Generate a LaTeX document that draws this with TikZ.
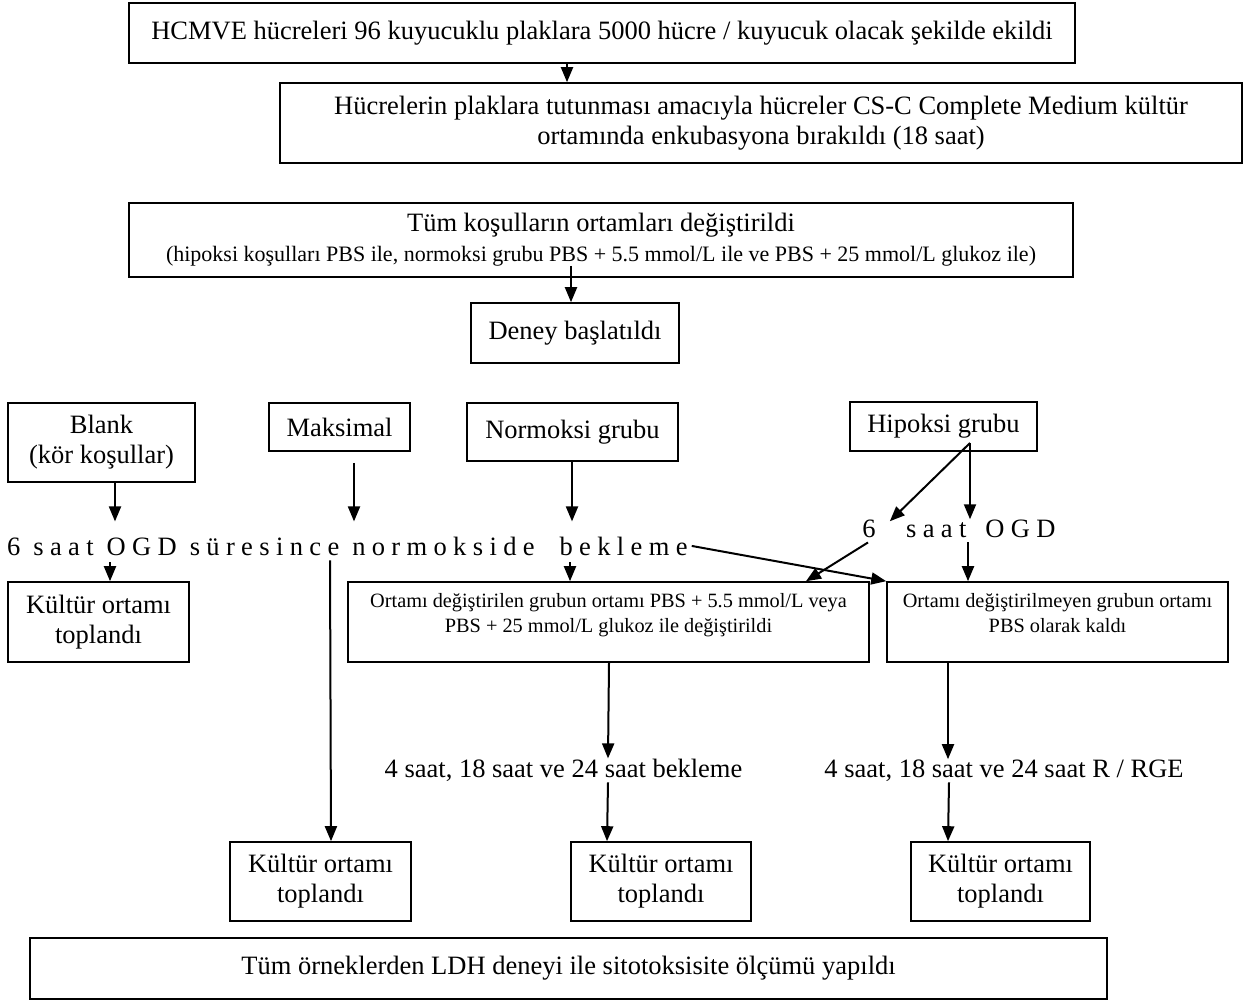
\documentclass[tikz,border=0pt]{standalone}
\usepackage{fontspec}
\setmainfont{Liberation Serif}
\usetikzlibrary{arrows.meta}

\newcommand{\mainsz}{\fontsize{26.5}{30}\selectfont}
\newcommand{\midsz}{\fontsize{22}{30}\selectfont}
\newcommand{\smallsz}{\fontsize{20.3}{25}\selectfont}
\newcommand{\spaced}{\addfontfeature{LetterSpace=24}}

\tikzset{
  box/.style={draw,line width=1.6pt,align=center,inner sep=0pt,font=\mainsz},
  txt/.style={inner sep=0pt,font=\mainsz},
  arr/.style={-{Triangle[length=15pt,width=12pt]},line width=2pt}
}

\begin{document}
\begin{tikzpicture}[x=1pt,y=-1pt]
\useasboundingbox (0,0) rectangle (1244,1000);

% Top of the protocol
\node[box,minimum width=946pt,minimum height=60pt] (seed) at (602,33)
  {HCMVE hücreleri 96 kuyucuklu plaklara 5000 hücre / kuyucuk olacak şekilde ekildi};
\node[box,minimum width=962pt,minimum height=80pt] (attach) at (761,123)
  {Hücrelerin plaklara tutunması amacıyla hücreler CS-C Complete Medium kültür\\
   ortamında enkubasyona bırakıldı (18 saat)};
\node[box,minimum width=944pt,minimum height=74pt] (change) at (601,240)
  {Tüm koşulların ortamları değiştirildi\\
   {\midsz (hipoksi koşulları PBS ile, normoksi grubu PBS + 5.5 mmol/L ile ve PBS + 25 mmol/L glukoz ile)}};
\node[box,minimum width=208pt,minimum height=60pt] (start) at (575,333) {Deney başlatıldı};

% Groups
\node[box,minimum width=187pt,minimum height=79pt] (blank) at (101.5,442.5) {Blank\\(kör koşullar)};
\node[box,minimum width=141pt,minimum height=48pt] (maks) at (339.5,427) {Maksimal};
\node[box,minimum width=211pt,minimum height=58pt] (norm) at (572.5,432) {Normoksi grubu};
\node[box,minimum width=187pt,minimum height=49pt] (hip) at (943.5,426.5) {Hipoksi grubu};

% OGD lines
\node[txt,anchor=base west] (row) at (7,555)
  {\spaced 6 saat OGD süresince normokside\hspace{12pt} bekleme};
\node[txt,anchor=base] (six) at (869,537) {6};
\node[txt,anchor=base west] (ogd) at (906,537) {\spaced saat\hspace{6pt} OGD};

% Media boxes
\node[box,minimum width=181pt,minimum height=80pt] (kul1) at (98.5,622) {Kültür ortamı\\toplandı};
\node[box,font=\smallsz,text depth=18pt,minimum width=521pt,minimum height=80pt] (ort1) at (608.5,622)
  {Ortamı değiştirilen grubun ortamı PBS + 5.5 mmol/L veya\\PBS + 25 mmol/L glukoz ile değiştirildi};
\node[box,font=\smallsz,text depth=18pt,minimum width=341pt,minimum height=80pt] (ort2) at (1057.5,622)
  {Ortamı değiştirilmeyen grubun ortamı\\PBS olarak kaldı};

% Reperfusion times
\node[txt,anchor=base] (wait1) at (563.5,777) {4 saat, 18 saat ve 24 saat bekleme};
\node[txt,anchor=base] (wait2) at (1004,777) {4 saat, 18 saat ve 24 saat R / RGE};

% Collected media
\node[box,minimum width=181pt,minimum height=79pt] (kul2) at (320.5,881.5) {Kültür ortamı\\toplandı};
\node[box,minimum width=180pt,minimum height=79pt] (kul3) at (661,881.5) {Kültür ortamı\\toplandı};
\node[box,minimum width=179pt,minimum height=79pt] (kul4) at (1000.5,881.5) {Kültür ortamı\\toplandı};
\node[box,minimum width=1077pt,minimum height=61pt] (ldh) at (568.5,968.5)
  {Tüm örneklerden LDH deneyi ile sitotoksisite ölçümü yapıldı};

\coordinate (hipA) at (970,443);

% Arrows
\draw[arr] (seed.south -| 567,0) -- (attach.north -| 567,0);
\draw[arr] ([yshift=12pt]change.south -| 571,0) -- (start.north -| 571,0);

\draw[arr] (blank.south -| 115,0) -- ([yshift=15pt]row.north -| 115,0);
\draw[arr] ([yshift=-11pt]maks.south -| 354,0) -- ([yshift=15pt]row.north -| 354,0);
\draw[arr] (norm.south -| 572,0) -- ([yshift=15pt]row.north -| 572,0);
\draw[arr] (hipA) -- ([xshift=14pt,yshift=-2pt]six.north east);
\draw[arr] (hipA) -- (ogd.north -| 970,0);

\draw[arr] ([yshift=-7pt]row.south -| 110,0) -- (kul1.north -| 110,0);
\draw[arr] ([yshift=-5pt]row.south -| 330,0) -- (kul2.north -| 331,0);
\draw[arr] ([yshift=-7pt]row.south -| 570,0) -- (ort1.north -| 570,0);
\draw[arr] ([xshift=-1pt,yshift=-5pt]six.south) -- (ort1.north -| 806,0);
\draw[arr] ([xshift=4pt]row.east) -- (ort2.north west);
\draw[arr] ([yshift=-5pt]ogd.south -| 968,0) -- (ort2.north -| 968,0);

\draw[arr] (ort1.south -| 609,0) -- (wait1.north -| 608,0);
\draw[arr] ([yshift=-1pt]wait1.south -| 608,0) -- (kul3.north -| 607,0);
\draw[arr] (ort2.south -| 948,0) -- (wait2.north -| 948,0);
\draw[arr] ([yshift=-1pt]wait2.south -| 949,0) -- (kul4.north -| 948,0);
\end{tikzpicture}
\end{document}
